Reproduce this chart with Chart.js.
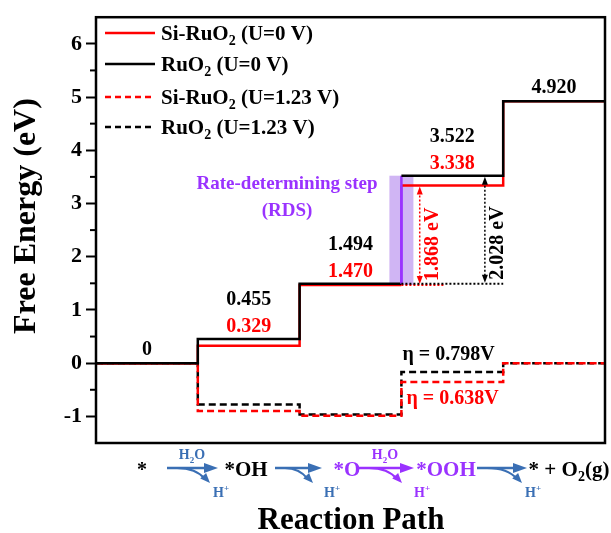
<!DOCTYPE html>
<html>
<head>
<meta charset="utf-8">
<script src="https://cdn.jsdelivr.net/npm/chart.js@4.4.1/dist/chart.umd.min.js"></script>
<style>
  body { margin: 0; background: #fff; }
  #wrap { width: 611px; height: 533px; }
</style>
</head>
<body>
<div id="wrap"><canvas id="energyChart" width="611" height="533"></canvas></div>
<script>
// OER free energy levels (eV) for each intermediate
const steps = ['*', '*OH', '*O', '*OOH', '* + O2(g)'];
const siRuO2U0 = [0, 0.329, 1.470, 3.338, 4.920];
const ruO2U0 = [0, 0.455, 1.494, 3.522, 4.920];
const siRuO2U123 = [0, -0.901, -0.990, -0.352, 0];
const ruO2U123 = [0, -0.775, -0.966, -0.168, 0];
const yTicks = [-1, 0, 1, 2, 3, 4, 5, 6];
const yMinorTicks = [-0.5, 0.5, 1.5, 2.5, 3.5, 4.5, 5.5];
const equilibriumU = 1.23;
const rdsIndex = 3; // *O -> *OOH

const SERIF = '"Liberation Serif", "Times New Roman", serif';
const RED = '#ff0000';
const PURPLE = '#9a32ff';
const BLUE = '#3a6fb4';

// each level is a flat segment from i to i+1, joined by vertical risers
function levelPoints(e) {
  const pts = [];
  e.forEach((v, i) => { pts.push({ x: i, y: v }); pts.push({ x: i + 1, y: v }); });
  return pts;
}

const rdsSegment = 2 * rdsIndex - 1;
const riserColor = ctx => ctx.p0DataIndex === rdsSegment ? PURPLE : undefined;

function font(size) { return 'bold ' + size + 'px ' + SERIF; }

// text pieces: [string, mode] with mode 0 normal, 1 subscript, 2 superscript
function richWidth(ctx, parts, size) {
  let w = 0;
  parts.forEach(([s, m]) => { ctx.font = font(m ? Math.round(size * 0.65) : size); w += ctx.measureText(s).width; });
  return w;
}
function drawRich(ctx, parts, x, y, size, color, align) {
  let cx = x;
  if (align === 'center') cx = x - richWidth(ctx, parts, size) / 2;
  ctx.fillStyle = color;
  ctx.textAlign = 'left';
  ctx.textBaseline = 'alphabetic';
  parts.forEach(([s, m]) => {
    ctx.font = font(m ? Math.round(size * 0.65) : size);
    const dy = m === 1 ? size * 0.25 : m === 2 ? -size * 0.4 : 0;
    ctx.fillText(s, cx, y + dy);
    cx += ctx.measureText(s).width;
  });
}

function head(ctx, tx, ty, ang, len, half, color) {
  ctx.save();
  ctx.fillStyle = color;
  ctx.translate(tx, ty);
  ctx.rotate(ang);
  ctx.beginPath();
  ctx.moveTo(0, 0);
  ctx.lineTo(-len, -half);
  ctx.lineTo(-len, half);
  ctx.closePath();
  ctx.fill();
  ctx.restore();
}

function dottedArrow(ctx, x, yTop, yBot, color) {
  ctx.save();
  ctx.strokeStyle = color;
  ctx.lineWidth = 1.5;
  ctx.setLineDash([2, 2]);
  ctx.beginPath();
  ctx.moveTo(x, yTop + 6);
  ctx.lineTo(x, yBot - 6);
  ctx.stroke();
  ctx.restore();
  head(ctx, x, yTop + 1, -Math.PI / 2, 8, 3, color);
  head(ctx, x, yBot - 1, Math.PI / 2, 8, 3, color);
}

// reaction arrow with a curved branch for the released proton
function schemeArrow(ctx, x0, x1, xb, color) {
  const yl = 468;
  ctx.save();
  ctx.strokeStyle = color;
  ctx.lineWidth = 2.5;
  ctx.beginPath();
  ctx.moveTo(x0, yl);
  ctx.lineTo(x1 - 8, yl);
  ctx.stroke();
  head(ctx, x1, yl, 0, 14, 5, color);
  const sx = x0 + 10, cx = xb - 14, tx = xb, ty = yl + 15;
  ctx.lineWidth = 2;
  ctx.beginPath();
  ctx.moveTo(sx, yl);
  ctx.quadraticCurveTo(cx, yl, tx - 5, ty - 4);
  ctx.stroke();
  head(ctx, tx, ty, Math.atan2(ty - yl, tx - cx), 10, 4, color);
  ctx.restore();
}

const decor = {
  id: 'decor',
  beforeDatasetsDraw(chart) {
    const { ctx, scales: { x, y } } = chart;
    const xc = x.getPixelForValue(rdsIndex);
    const yt = y.getPixelForValue(ruO2U0[rdsIndex]);
    const yb = y.getPixelForValue(siRuO2U0[rdsIndex - 1]);
    ctx.save();
    ctx.fillStyle = 'rgba(150, 90, 230, 0.45)';
    ctx.fillRect(xc - 12, yt, 24, yb - yt);
    ctx.restore();
  },
  afterDatasetsDraw(chart) {
    const { ctx, scales: { x, y } } = chart;
    const X = v => x.getPixelForValue(v);
    const Y = v => y.getPixelForValue(v);

    // dotted reference lines at the level before the RDS
    ctx.save();
    ctx.lineWidth = 2;
    ctx.setLineDash([2, 2]);
    ctx.strokeStyle = RED;
    ctx.beginPath();
    ctx.moveTo(X(rdsIndex), Y(siRuO2U0[rdsIndex - 1]));
    ctx.lineTo(X(rdsIndex + 0.43), Y(siRuO2U0[rdsIndex - 1]));
    ctx.stroke();
    ctx.strokeStyle = '#000';
    ctx.beginPath();
    ctx.moveTo(X(rdsIndex), Y(ruO2U0[rdsIndex - 1]));
    ctx.lineTo(X(rdsIndex + 1), Y(ruO2U0[rdsIndex - 1]));
    ctx.stroke();
    ctx.restore();

    const siGap = siRuO2U0[rdsIndex] - siRuO2U0[rdsIndex - 1];
    const ruGap = ruO2U0[rdsIndex] - ruO2U0[rdsIndex - 1];
    dottedArrow(ctx, X(rdsIndex + 0.18), Y(siRuO2U0[rdsIndex]), Y(siRuO2U0[rdsIndex - 1]), RED);
    dottedArrow(ctx, X(rdsIndex + 0.82), Y(ruO2U0[rdsIndex]), Y(ruO2U0[rdsIndex - 1]), '#000');

    [[siGap, rdsIndex + 0.31, siRuO2U0[rdsIndex - 1], RED], [ruGap, rdsIndex + 0.95, ruO2U0[rdsIndex - 1], '#000']]
      .forEach(([gap, xv, base, color]) => {
        ctx.save();
        ctx.translate(X(xv), Y(base) - 4);
        ctx.rotate(-Math.PI / 2);
        ctx.font = font(20);
        ctx.fillStyle = color;
        ctx.textAlign = 'left';
        ctx.textBaseline = 'middle';
        ctx.fillText(gap.toFixed(3) + ' eV', 0, 0);
        ctx.restore();
      });

    // level values
    ctx.save();
    ctx.font = font(20);
    ctx.textAlign = 'center';
    ctx.textBaseline = 'middle';
    ruO2U0.forEach((v, i) => {
      const same = siRuO2U0[i] === v;
      const yl = Y(v) - (same ? 13 : 39);
      ctx.fillStyle = '#000';
      ctx.fillText(v === 0 ? '0' : v.toFixed(3), X(i + 0.5), yl);
      if (!same) {
        ctx.fillStyle = RED;
        ctx.fillText(siRuO2U0[i].toFixed(3), X(i + 0.5), yl + 27);
      }
    });
    ctx.restore();

    // overpotentials
    ctx.save();
    ctx.font = font(20);
    ctx.textAlign = 'left';
    ctx.textBaseline = 'middle';
    ctx.fillStyle = '#000';
    ctx.fillText('\u03b7 = ' + (ruGap - equilibriumU).toFixed(3) + 'V', X(rdsIndex) + 1, Y(ruO2U123[rdsIndex]) - 17);
    ctx.fillStyle = RED;
    ctx.fillText('\u03b7 = ' + (siGap - equilibriumU).toFixed(3) + 'V', X(rdsIndex) + 5, Y(siRuO2U123[rdsIndex]) + 17);

    ctx.font = font(19);
    ctx.textAlign = 'center';
    ctx.fillStyle = PURPLE;
    ctx.fillText('Rate-determining step', 287, 184);
    ctx.fillText('(RDS)', 287, 211);
    ctx.restore();
  },
  afterDraw(chart) {
    const { ctx, chartArea: a, scales: { y } } = chart;
    ctx.save();
    ctx.strokeStyle = '#000';
    ctx.lineWidth = 2.5;
    ctx.strokeRect(a.left, a.top, a.right - a.left, a.bottom - a.top);
    ctx.lineWidth = 2;
    yMinorTicks.forEach(v => {
      const py = y.getPixelForValue(v);
      ctx.beginPath();
      ctx.moveTo(a.left - 6, py);
      ctx.lineTo(a.left, py);
      ctx.stroke();
    });

    // legend
    const legend = [
      [[['Si-RuO', 0], ['2', 1], [' (U=0 V)', 0]], RED, []],
      [[['RuO', 0], ['2', 1], [' (U=0 V)', 0]], '#000', []],
      [[['Si-RuO', 0], ['2', 1], [' (U=1.23 V)', 0]], RED, [6, 4]],
      [[['RuO', 0], ['2', 1], [' (U=1.23 V)', 0]], '#000', [6, 4]]
    ];
    const rows = [33, 64, 97, 127];
    legend.forEach(([parts, color, dash], i) => {
      ctx.strokeStyle = color;
      ctx.lineWidth = 2.5;
      ctx.setLineDash(dash);
      ctx.beginPath();
      ctx.moveTo(105, rows[i]);
      ctx.lineTo(155, rows[i]);
      ctx.stroke();
      ctx.setLineDash([]);
      drawRich(ctx, parts, 161, rows[i] + 7, 21, '#000');
    });

    // axis titles
    ctx.save();
    ctx.translate(27, 216);
    ctx.rotate(-Math.PI / 2);
    ctx.font = font(32);
    ctx.fillStyle = '#000';
    ctx.textAlign = 'center';
    ctx.textBaseline = 'middle';
    ctx.fillText('Free Energy (eV)', 0, 0);
    ctx.restore();
    ctx.font = font(31);
    ctx.fillStyle = '#000';
    ctx.textAlign = 'center';
    ctx.textBaseline = 'alphabetic';
    ctx.fillText('Reaction Path', 351, 529);

    // reaction scheme under the axis
    const base = 476;
    drawRich(ctx, [[steps[0], 0]], 142, base, 20, '#000', 'center');
    schemeArrow(ctx, 167, 218, 210, BLUE);
    drawRich(ctx, [['H', 0], ['2', 1], ['O', 0]], 192, 459, 14, BLUE, 'center');
    drawRich(ctx, [['H', 0], ['+', 2]], 221, 497, 14, BLUE, 'center');
    drawRich(ctx, [[steps[1], 0]], 246, base, 21, '#000', 'center');
    schemeArrow(ctx, 275, 322, 313, BLUE);
    drawRich(ctx, [['H', 0], ['+', 2]], 332, 497, 14, BLUE, 'center');
    drawRich(ctx, [[steps[2], 0]], 347, base, 21, PURPLE, 'center');
    schemeArrow(ctx, 359, 414, 402, PURPLE);
    drawRich(ctx, [['H', 0], ['2', 1], ['O', 0]], 385, 459, 14, PURPLE, 'center');
    drawRich(ctx, [['H', 0], ['+', 2]], 422, 497, 14, PURPLE, 'center');
    drawRich(ctx, [[steps[3], 0]], 446, base, 21, PURPLE, 'center');
    schemeArrow(ctx, 477, 527, 522, BLUE);
    drawRich(ctx, [['H', 0], ['+', 2]], 533, 497, 14, BLUE, 'center');
    drawRich(ctx, [['* + O', 0], ['2', 1], ['(g)', 0]], 569, base, 21, '#000', 'center');
    ctx.restore();
  }
};

new Chart(document.getElementById('energyChart'), {
  type: 'line',
  data: {
    datasets: [
      { label: 'RuO2 (U=0 V)', data: levelPoints(ruO2U0), borderColor: '#000', order: 0,
        segment: { borderColor: riserColor } },
      { label: 'Si-RuO2 (U=0 V)', data: levelPoints(siRuO2U0), borderColor: RED, order: 1,
        segment: { borderColor: riserColor } },
      { label: 'Si-RuO2 (U=1.23 V)', data: levelPoints(siRuO2U123), borderColor: RED, order: 2,
        borderDash: [7, 4], borderDashOffset: 6 },
      { label: 'RuO2 (U=1.23 V)', data: levelPoints(ruO2U123), borderColor: '#000', order: 3,
        borderDash: [7, 4] }
    ]
  },
  options: {
    responsive: false,
    animation: false,
    devicePixelRatio: 1,
    layout: { padding: { top: 13, right: 6, bottom: 90, left: 0 } },
    elements: {
      line: { borderWidth: 2.5, tension: 0, fill: false, borderCapStyle: 'butt' },
      point: { radius: 0, hoverRadius: 0 }
    },
    plugins: { legend: { display: false }, tooltip: { enabled: false } },
    scales: {
      x: { type: 'linear', min: 0, max: steps.length, display: false },
      y: {
        min: -1.5, max: 6.5,
        afterFit(scale) { scale.width = 96; },
        afterBuildTicks(scale) { scale.ticks = yTicks.map(v => ({ value: v })); },
        border: { display: false },
        grid: { display: true, drawOnChartArea: false, drawTicks: true, tickLength: 10, tickWidth: 2, tickColor: '#000' },
        ticks: { color: '#000', padding: 4, font: { family: SERIF, size: 22, weight: 'bold' } }
      }
    }
  },
  plugins: [decor]
});
</script>
</body>
</html>
